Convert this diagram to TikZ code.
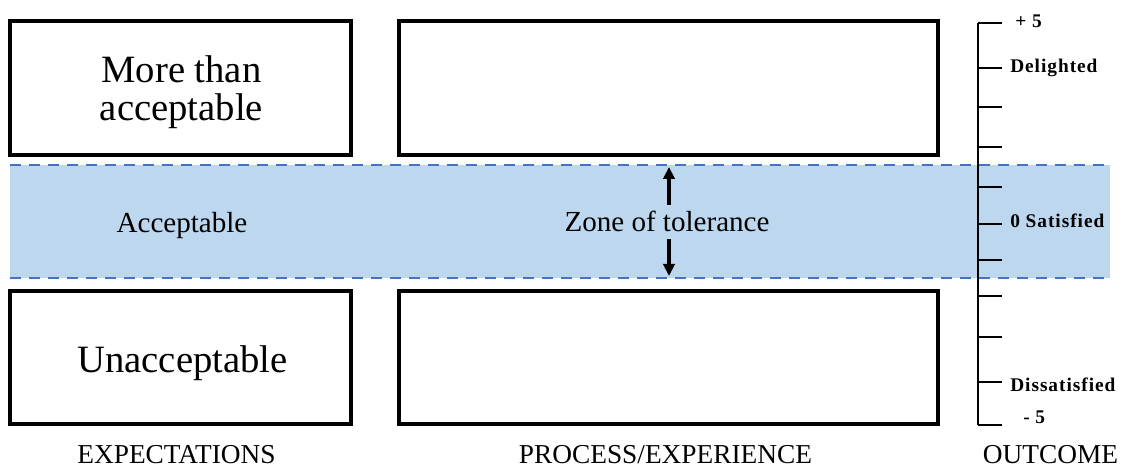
\documentclass[tikz,border=0pt]{standalone}
\usepackage{fontspec}
\setmainfont{Liberation Serif}
\usetikzlibrary{arrows.meta}
\definecolor{bandfill}{HTML}{BDD7EE}
\definecolor{bandline}{HTML}{4472C4}

\begin{document}
\begin{tikzpicture}[x=0.75pt,y=-0.75pt,every node/.style={inner sep=0pt}]
  \tikzstyle{boxE}=[draw,line width=2.3pt,minimum width=255.75pt,minimum height=100.5pt]
  \tikzstyle{boxP}=[draw,line width=2.3pt,minimum width=404.25pt,minimum height=100.5pt]
  \tikzstyle{txtBig}=[font=\fontsize{29}{28.5}\selectfont,align=center]
  \tikzstyle{txtMid}=[font=\fontsize{21.8}{24}\selectfont]
  \tikzstyle{txtCap}=[font=\fontsize{20.5}{24}\selectfont,anchor=base]
  \tikzstyle{txtOut}=[font=\fontsize{14.5}{16}\selectfont\bfseries\addfontfeature{LetterSpace=5},anchor=base west]
  \tikzstyle{dashline}=[draw=bandline,line width=1.9pt,dash pattern=on 8.25pt off 6pt]
  \tikzstyle{arr}=[line width=2.6pt,-{Triangle[length=9pt,width=8.5pt]}]
  \useasboundingbox (0,0) rectangle (1129,470);

  % expectation and process boxes
  \node[boxE] (expHigh) at (180.5,88) {};
  \node[boxP] (procHigh) at (668.5,88) {};
  \node[boxE,minimum height=99.75pt] (expLow) at (180.5,357.5) {};
  \node[boxP,minimum height=99.75pt] (procLow) at (668.5,357.5) {};
  \node[txtBig] (moreThan) at (181.5,92) {More than\\acceptable};
  \node[txtBig,anchor=base] (unacc) at (182.5,373) {Unacceptable};

  % zone of tolerance band
  \fill[bandfill] (10,165) rectangle (1110,278);
  \draw[dashline] (10,165) -- (1110,165);
  \draw[dashline] (10,278) -- (1110,278);
  \coordinate (bandTop) at (669,167);
  \coordinate (bandBot) at (669,276);
  \node[txtMid,anchor=base] (accept) at (182,233) {Acceptable};
  \node[txtMid,anchor=base,inner sep=5pt] (zone) at (667,232) {Zone of tolerance};
  \draw[arr] (zone.north -| bandTop) -- (bandTop);
  \draw[arr] (zone.south -| bandBot) -- (bandBot);

  % outcome scale
  \draw[line width=1.5pt] (978,23) -- (978,425);
  \foreach \y in {23,68,107,147,187,224,260,296,337,382,425}
    \draw[line width=1.5pt] (977.5,\y) -- (1002,\y);
  \node[txtOut] (plusFive) at (1015,28) {+ 5};
  \node[txtOut] (delight) at (1010,73) {Delighted};
  \node[txtOut] (satis) at (1010,228) {0 Satisfied};
  \node[txtOut] (dissat) at (1010,392) {Dissatisfied};
  \node[txtOut] (minusFive) at (1023,424) {- 5};

  % column captions
  \node[txtCap] (expect) at (176.5,464) {EXPECTATIONS};
  \node[txtCap] (process) at (665.5,464) {PROCESS/EXPERIENCE};
  \node[txtCap] (outcome) at (1050.5,464) {OUTCOME};
\end{tikzpicture}
\end{document}
